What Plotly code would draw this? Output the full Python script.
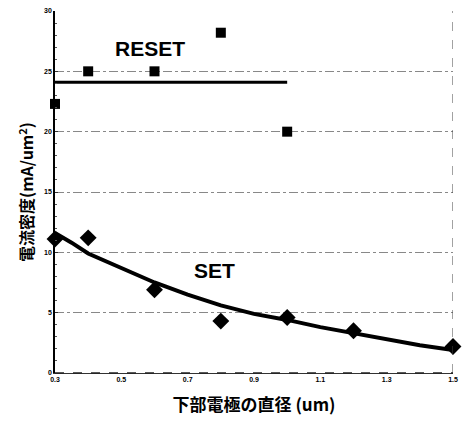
import plotly.graph_objects as go

# Data
reset_x = [0.3, 0.4, 0.6, 0.8, 1.0]
reset_y = [22.3, 25.0, 25.0, 28.2, 20.0]
reset_fit_x = [0.3, 1.0]
reset_fit_y = [24.1, 24.1]

set_x = [0.3, 0.4, 0.6, 0.8, 1.0, 1.2, 1.5]
set_y = [11.1, 11.2, 6.9, 4.3, 4.6, 3.5, 2.2]
set_fit_x = [0.3, 0.35, 0.4, 0.5, 0.6, 0.7, 0.8, 0.9, 1.0, 1.1, 1.2, 1.3, 1.4, 1.5]
set_fit_y = [11.6, 10.8, 9.9, 8.7, 7.5, 6.5, 5.6, 4.9, 4.4, 3.8, 3.3, 2.8, 2.3, 1.9]

x_ticks = [0.3, 0.5, 0.7, 0.9, 1.1, 1.3, 1.5]
y_ticks = [0, 5, 10, 15, 20, 25, 30]

fig = go.Figure()
fig.add_trace(go.Scatter(x=reset_fit_x, y=reset_fit_y, mode="lines",
                         line=dict(color="black", width=3), showlegend=False, cliponaxis=False))
fig.add_trace(go.Scatter(x=set_fit_x, y=set_fit_y, mode="lines",
                         line=dict(color="black", width=4), showlegend=False, cliponaxis=False))
fig.add_trace(go.Scatter(x=reset_x, y=reset_y, mode="markers",
                         marker=dict(symbol="square", size=10, color="black"), showlegend=False,
                         cliponaxis=False))
fig.add_trace(go.Scatter(x=set_x, y=set_y, mode="markers",
                         marker=dict(symbol="diamond", size=13, color="black"), showlegend=False,
                         cliponaxis=False))

fig.add_annotation(x=0.585, y=26.9, text="<b>RESET</b>", showarrow=False,
                   font=dict(family="Liberation Sans", size=21, color="black"))
fig.add_annotation(x=0.78, y=8.5, text="<b>SET</b>", showarrow=False,
                   font=dict(family="Liberation Sans", size=21, color="black"))

fig.update_layout(
    width=465, height=425,
    margin=dict(l=55, r=7, t=9, b=52),
    paper_bgcolor="white", plot_bgcolor="white",
    font=dict(family="Noto Sans CJK JP", color="black"),
)
fig.update_xaxes(
    range=[0.3, 1.5], tickvals=x_ticks, ticktext=[str(v) for v in x_ticks],
    tickfont=dict(size=7, family="Liberation Sans", weight="bold"),
    showgrid=False, zeroline=False,
    showline=True, linecolor="#333", linewidth=1,
    title=dict(text="<b>下部電極の直径 (um)</b>", font=dict(size=17, family="Noto Sans CJK JP"), standoff=16),
    ticks="", mirror=False,
)
fig.update_yaxes(
    range=[0, 30], tickvals=y_ticks, ticktext=[str(v) for v in y_ticks],
    tickfont=dict(size=7, family="Liberation Sans", weight="bold"),
    showgrid=True, gridcolor="#888", griddash="dashdot", gridwidth=1,
    zeroline=False, showline=True, linecolor="black", linewidth=1.5,
    ticks="inside", ticklen=3, tickcolor="#333",
    minor=dict(ticks="inside", ticklen=2, tickcolor="#555", dtick=1),
    title=dict(text="<b>電流密度(mA/um<sup>2</sup>)</b>", font=dict(size=16, family="Noto Sans CJK JP"), standoff=6),
)
# right border (dashed) at x=1.5
fig.add_shape(type="line", xref="x", yref="paper", x0=1.5, x1=1.5, y0=0, y1=1,
              line=dict(color="#444", width=1, dash="dash"))
# bottom dashed
fig.add_shape(type="line", xref="paper", yref="paper", x0=0, x1=1, y0=0, y1=0,
              line=dict(color="#222", width=1.5, dash="dash"))

fig.write_html("out.html")
